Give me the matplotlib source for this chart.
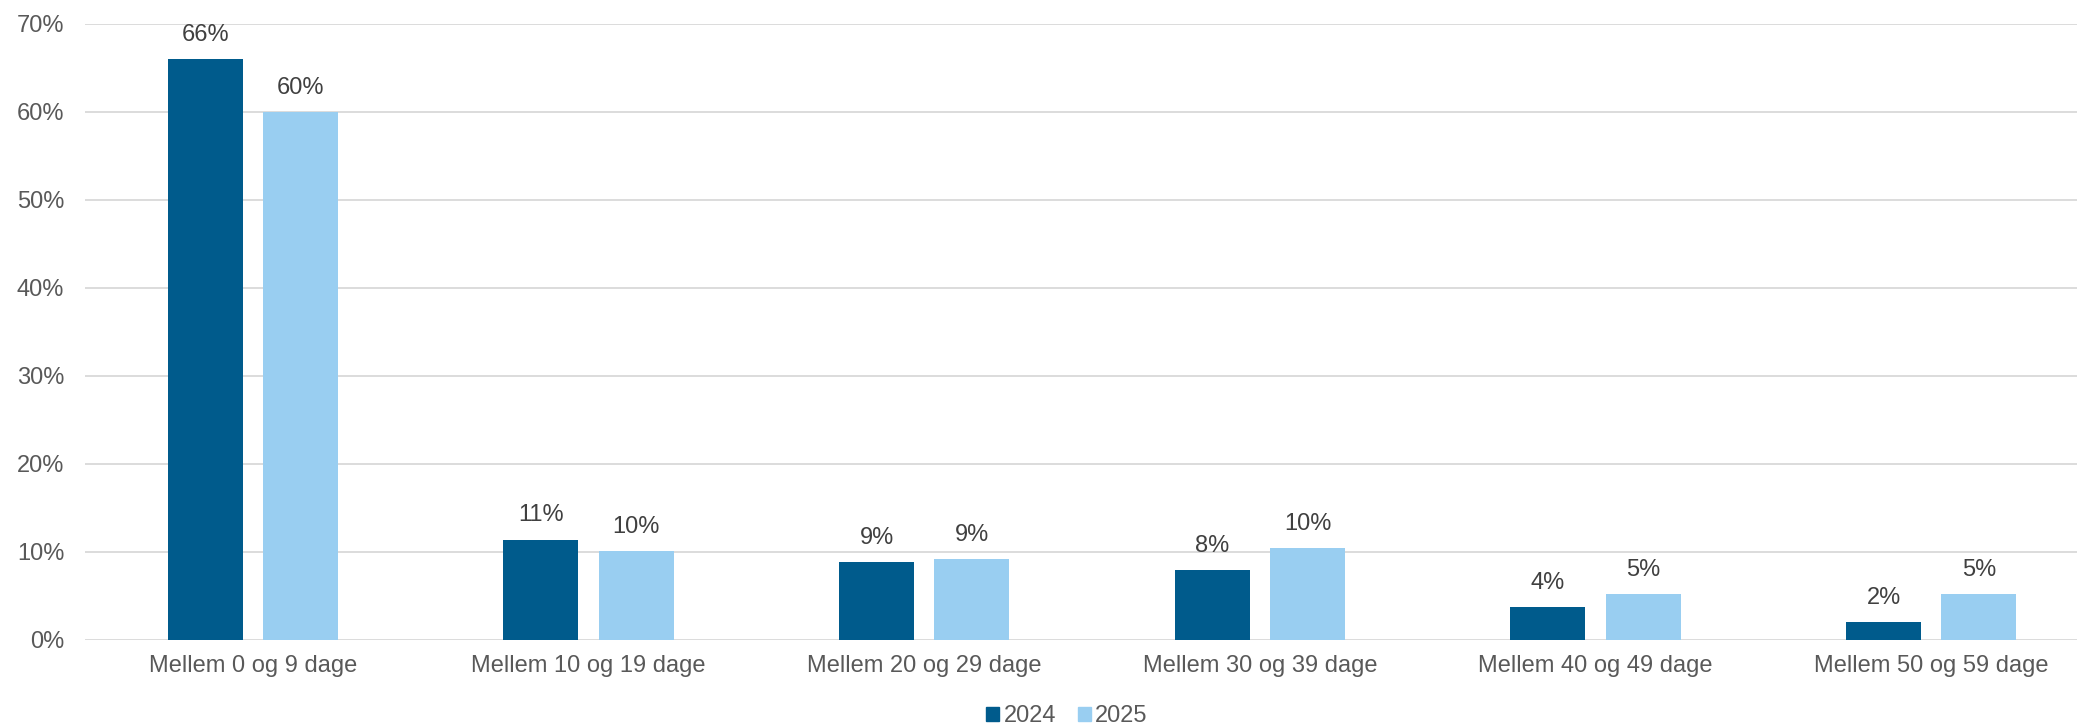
import matplotlib
matplotlib.use("Agg")
import matplotlib.pyplot as plt
import numpy as np
from matplotlib.patches import Patch

categories = ["Mellem 0 og 9 dage", "Mellem 10 og 19 dage", "Mellem 20 og 29 dage",
              "Mellem 30 og 39 dage", "Mellem 40 og 49 dage", "Mellem 50 og 59 dage"]
series_names = ["2024", "2025"]
values_2024 = [66.0, 11.4, 8.8, 7.9, 3.7, 2.0]
values_2025 = [59.9, 10.1, 9.2, 10.4, 5.2, 5.2]
yticks = [0, 10, 20, 30, 40, 50, 60, 70]

c_dark = "#005B8C"
c_light = "#99CEF1"
grid_c = "#D9D9D9"
txt_c = "#595959"
lbl_c = "#404040"
fs = 17

plt.rcParams['font.family'] = ['Liberation Sans', 'DejaVu Sans']

W, H = 2077, 727
fig = plt.figure(figsize=(W/100, H/100), dpi=100)
ax = fig.add_axes([85/W, 1-640/H, (2099-85)/W, (640-23.5)/H])

x = np.arange(len(categories))
bw = 0.2235
off = 0.142
b1 = ax.bar(x - off, values_2024, bw, color=c_dark, zorder=3)
b2 = ax.bar(x + off, values_2025, bw, color=c_light, zorder=3)

for bars, vals in ((b1, values_2024), (b2, values_2025)):
    for r, v in zip(bars, vals):
        ax.annotate(f"{v:.0f}%", (r.get_x() + r.get_width()/2, v),
                    xytext=(0, 9.5), textcoords="offset points",
                    ha="center", va="bottom", fontsize=fs, color=lbl_c)

ax.set_xlim(-0.5, len(categories) - 0.5)
ax.set_ylim(0, 70)
ax.set_yticks(yticks)
ax.set_yticklabels([f"{t}%" for t in yticks])
ax.set_xticks(x)
ax.set_xticklabels(categories)
ax.tick_params(axis="y", length=0, pad=15, labelsize=fs, labelcolor=txt_c)
ax.tick_params(axis="x", length=0, pad=11, labelsize=fs, labelcolor=txt_c)
ax.grid(axis="y", color=grid_c, linewidth=1.3, zorder=0)
ax.set_axisbelow(True)
for s in ax.spines.values():
    s.set_visible(False)

handles = [Patch(color=c_dark, label=series_names[0]), Patch(color=c_light, label=series_names[1])]
fig.legend(handles=handles, loc="center", bbox_to_anchor=(1067/W, 1-716/H), ncol=2,
           frameon=False, fontsize=fs, labelcolor=txt_c, handlelength=0.55, handleheight=0.55,
           handletextpad=0.2, columnspacing=0.9, borderpad=0)

fig.savefig("out.png", dpi=100)
